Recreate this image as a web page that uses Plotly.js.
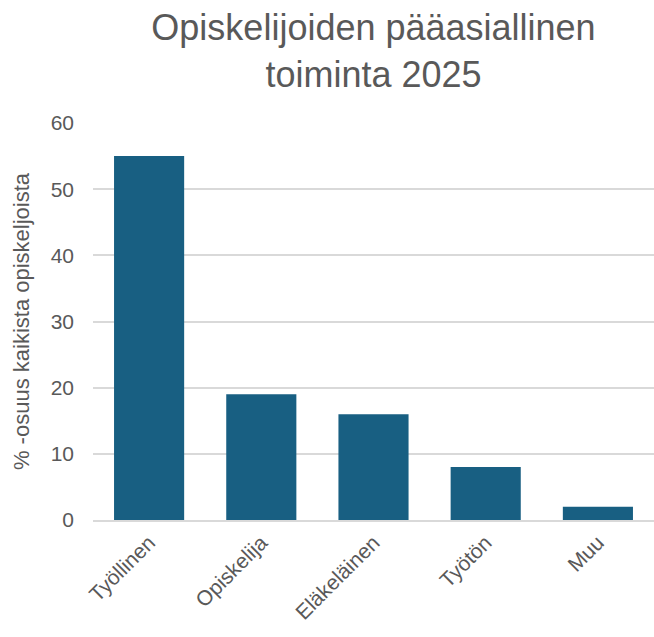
<!DOCTYPE html>
<html>
<head>
<meta charset="utf-8">
<script src="https://cdn.plot.ly/plotly-3.0.1.min.js"></script>
<style>
  body { margin: 0; background: #fff; }
  #chart { width: 654px; height: 637px; }
</style>
</head>
<body>
<div id="chart"></div>
<script>
const categories = ["Työllinen", "Opiskelija", "Eläkeläinen", "Työtön", "Muu"];
const shares = [55, 19, 16, 8, 2];
const yTicks = [0, 10, 20, 30, 40, 50, 60];

const textGray = "#595959";
const fontFamily = "Liberation Sans, Arial, sans-serif";

const trace = {
  x: categories,
  y: shares,
  type: "bar",
  marker: { color: "#185f82" },
  hoverinfo: "x+y",
};

const layout = {
  width: 654,
  height: 637,
  title: {
    text: "Opiskelijoiden pääasiallinen<br>toiminta 2025",
    font: { family: fontFamily, size: 36, color: textGray },
    xref: "paper",
    x: 0.5,
    xanchor: "center",
    yref: "container",
    y: 0.937,
    yanchor: "middle",
  },
  xaxis: {
    tickangle: -45,
    tickfont: { family: fontFamily, size: 21, color: textGray },
    showline: true,
    linecolor: "#d9d9d9",
    linewidth: 2,
    ticks: "",
  },
  yaxis: {
    range: [0, 60],
    tickvals: yTicks,
    tickfont: { family: fontFamily, size: 21, color: textGray },
    ticklabelstandoff: 18,
    showgrid: true,
    gridcolor: "#d9d9d9",
    gridwidth: 1.5,
    zeroline: false,
    ticks: "",
    title: {
      text: "% -osuus kaikista opiskeljoista",
      font: { family: fontFamily, size: 22, color: textGray },
      standoff: 14,
    },
  },
  bargap: 0.375,
  margin: { t: 123, l: 93, r: 0, b: 117 },
  showlegend: false,
  plot_bgcolor: "#fff",
  paper_bgcolor: "#fff",
};

Plotly.newPlot("chart", [trace], layout, { displayModeBar: false });
</script>
</body>
</html>
